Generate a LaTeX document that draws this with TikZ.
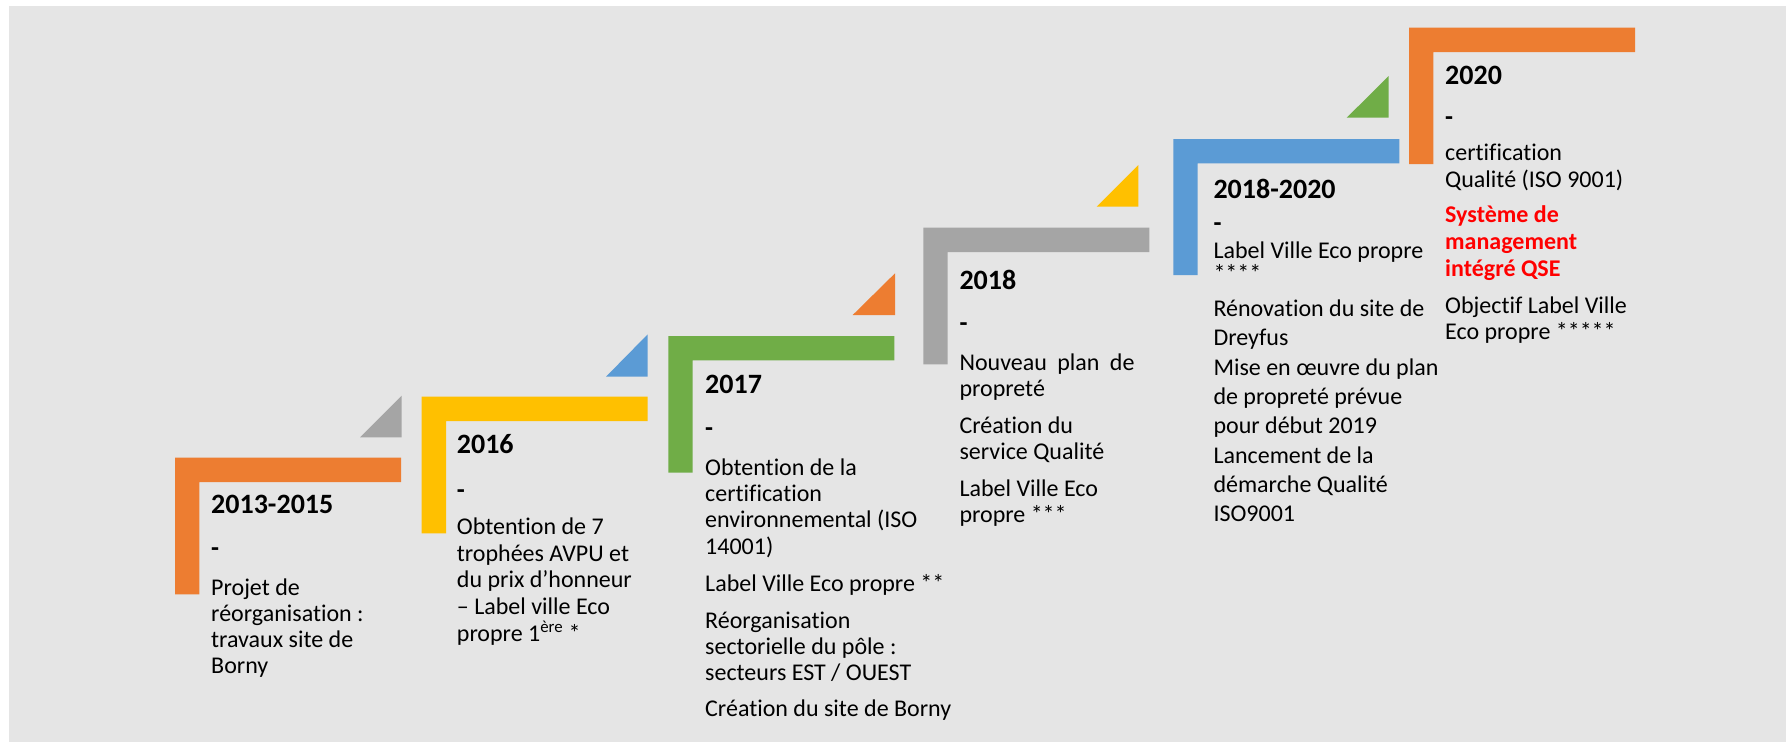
\documentclass[tikz,border=0pt]{standalone}
\usepackage{fontspec}
\setmainfont{Carlito}[Ligatures=NoCommon]
\definecolor{bgC}{HTML}{E5E5E5}
\definecolor{orC}{HTML}{ED7D31}
\definecolor{yeC}{HTML}{FFC000}
\definecolor{grC}{HTML}{70AD47}
\definecolor{blC}{HTML}{5B9BD5}
\definecolor{gyC}{HTML}{A5A5A5}
\definecolor{redC}{HTML}{FF0000}
\tikzset{
  yearlbl/.style={anchor=base west, inner sep=0pt, font=\bfseries\fontsize{28}{30}\selectfont},
  dashlbl/.style={anchor=base west, inner sep=0pt, font=\bfseries\fontsize{26}{28}\selectfont},
  bodylbl/.style={anchor=base west, inner sep=0pt, align=left, font=\fontsize{24}{#1}\selectfont},
  bodylbl/.default=26.5,
  redlbl/.style={anchor=base west, inner sep=0pt, align=left, text=redC, font=\bfseries\fontsize{24}{26.7}\selectfont},
}
\begin{document}
\begin{tikzpicture}[x=1pt,y=-1pt]
\useasboundingbox (0,0) rectangle (1786,742);
\fill[white] (0,0) rectangle (1786,742);
\fill[bgC] (9,6) rectangle (1786,742);
% L shapes
\fill[orC] (175,457.7) rectangle ++(226,24.3) (175,457.7) rectangle ++(24.3,136.6);
\fill[yeC] (421.7,396.7) rectangle ++(226,24.3) (421.7,396.7) rectangle ++(24.3,136.6);
\fill[grC] (668.3,336) rectangle ++(226,24.3) (668.3,336) rectangle ++(24.3,136.6);
\fill[gyC] (923.3,227.7) rectangle ++(226,24.3) (923.3,227.7) rectangle ++(24.3,136.6);
\fill[blC] (1173.3,139) rectangle ++(226,24.3) (1173.3,139) rectangle ++(24.3,136);
\fill[orC] (1409,27.7) rectangle ++(226,24.3) (1409,27.7) rectangle ++(24.3,136.3);
% triangles
\fill[gyC] (360,437.3) -- (401.7,437.3) -- (401.7,395.7) -- cycle;
\fill[blC] (606,376.7) -- (647.7,376.7) -- (647.7,334.3) -- cycle;
\fill[orC] (852.7,315) -- (895,315) -- (895,273.3) -- cycle;
\fill[yeC] (1096.7,206.7) -- (1138.3,206.7) -- (1138.3,165) -- cycle;
\fill[grC] (1346.7,117.7) -- (1388.7,117.7) -- (1388.7,76) -- cycle;
% column 1 (multi-line nodes are anchored at the baseline of their last line)
\node[yearlbl] (y1) at (211,513.3) {2013-2015};
\node[dashlbl] (d1) at (211,556.5) {-};
\node[bodylbl=25.8] (b1) at (211,673.3) {Projet de\\réorganisation :\\travaux site de\\Borny};
% column 2
\node[yearlbl] (y2) at (456.7,453.3) {2016};
\node[dashlbl] (d2) at (456.7,498.2) {-};
\node[bodylbl=26.9] (b2) at (456.7,641.7) {Obtention de 7\\trophées AVPU et\\du prix d’honneur\\– Label ville Eco\\propre 1\textsuperscript{ère} *};
% column 3
\node[yearlbl] (y3) at (705,393.3) {2017};
\node[dashlbl] (d3) at (705,436.5) {-};
\node[bodylbl=26.3] (b3a) at (705,554) {Obtention de la\\certification\\environnemental (ISO\\14001)};
\node[bodylbl] (b3b) at (705,591.7) {Label Ville Eco propre **};
\node[bodylbl=25.8] (b3c) at (705,680) {Réorganisation\\sectorielle du pôle :\\secteurs EST / OUEST};
\node[bodylbl] (b3d) at (705,716.7) {Création du site de Borny};
% column 4
\node[yearlbl] (y4) at (959.3,289.3) {2018};
\node[dashlbl] (d4) at (959.3,331.5) {-};
\node[bodylbl=26.7] (b4a) at (959.3,396.7) {\makebox[175pt][s]{Nouveau plan de}\\propreté};
\node[bodylbl=26] (b4b) at (959.3,459.3) {Création du\\service Qualité};
\node[bodylbl=26] (b4c) at (959.3,522.7) {Label Ville Eco\\propre ***};
% column 5
\node[yearlbl] (y5) at (1213.3,198.3) {2018-2020};
\node[dashlbl] (d5) at (1213.3,231.2) {-};
\node[bodylbl=23.4] (b5a) at (1213.3,281.7) {Label Ville Eco propre\\****};
\node[bodylbl=29.3] (b5b) at (1213.3,521.7) {Rénovation du site de\\Dreyfus\\Mise en œuvre du plan\\de propreté prévue\\pour début 2019\\Lancement de la\\démarche Qualité\\ISO9001};
% column 6
\node[yearlbl] (y6) at (1445,84.3) {2020};
\node[dashlbl] (d6) at (1445,125.5) {-};
\node[bodylbl=27.3] (b6a) at (1445,187.3) {certification\\Qualité (ISO 9001)};
\node[redlbl] (b6b) at (1445,276) {Système de\\management\\intégré QSE};
\node[bodylbl=26] (b6c) at (1445,339.3) {Objectif Label Ville\\Eco propre *****};
\end{tikzpicture}
\end{document}
